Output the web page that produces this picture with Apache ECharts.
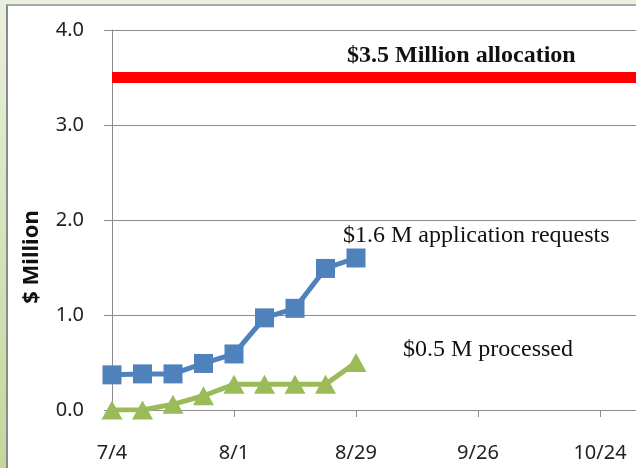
<!DOCTYPE html>
<html>
<head>
<meta charset="utf-8">
<script src="https://cdn.jsdelivr.net/npm/echarts@6/dist/echarts.min.js"></script>
<style>
html,body{margin:0;padding:0;}
body{width:636px;height:468px;overflow:hidden;position:relative;background:linear-gradient(#e9f0dd,#c3d79a);}
#panel{position:absolute;left:6px;top:4px;width:630px;height:464px;background:#fff;border-left:2px solid #8a8a8a;border-top:2px solid #a8a8a8;box-sizing:border-box;}
#main{position:absolute;left:0;top:0;width:760px;height:468px;}
</style>
</head>
<body>
<div id="panel"></div>
<div id="main"></div>
<script>
'use strict'
// week dates (2011) and values in $ million
var dates=['7/4','7/11','7/18','7/25','8/1','8/8','8/15','8/22','8/29'];
var requests=[0.37,0.38,0.38,0.49,0.59,0.97,1.07,1.49,1.60];
var processed=[0.00,0.00,0.06,0.15,0.27,0.27,0.27,0.27,0.50];
var allocation=3.5;
var yTicks=[0,1,2,3,4];

var t0=new Date(2011,6,4).getTime();
var DAY=86400000;
function dayOf(s){
	var p=s.split('/');
	return Math.round((new Date(2011,+p[0]-1,+p[1]).getTime()-t0)/DAY);
}
function labelOf(d){
	var dt=new Date(t0+d*DAY);
	return (dt.getMonth()+1)+'/'+dt.getDate();
}
function pairs(arr){
	var out=[];
	for(var i=0;i<arr.length;i++){
		out.push([dayOf(dates[i]),arr[i]]);
	}
	return out;
}

var gray='#8c8c8c';
// the chart div is wider than the window, the axis runs on past the right edge
var myChart=echarts.init(document.getElementById('main'));
var option={
	animation:false,
	backgroundColor:'transparent',
	grid:{left:112,top:30,bottom:58,right:38},
	xAxis:{
		type:'value',
		min:0,max:140,interval:28,
		axisLine:{show:true,lineStyle:{color:gray,width:1}},
		axisTick:{show:true,length:7,lineStyle:{color:gray}},
		splitLine:{show:false},
		axisLabel:{
			margin:33,
			color:'#222',
			fontFamily:'Noto Sans',
			fontSize:20,
			formatter:function(v){return labelOf(v);}
		}
	},
	yAxis:{
		type:'value',
		min:yTicks[0],max:yTicks[yTicks.length-1],interval:1,
		axisLine:{show:true,lineStyle:{color:gray,width:1}},
		axisTick:{show:true,length:8,lineStyle:{color:gray}},
		splitLine:{show:true,lineStyle:{color:gray,width:1}},
		axisLabel:{
			margin:28,
			color:'#222',
			fontFamily:'Noto Sans',
			fontSize:20,
			formatter:function(v){return v.toFixed(1);}
		}
	},
	graphic:[
		{type:'text',x:32,y:257,rotation:Math.PI/2,
			style:{text:'$ Million',font:'bold 22px "Noto Sans"',fill:'#111',textAlign:'center',textVerticalAlign:'middle'}},
		{type:'text',x:347,y:56,
			style:{text:'$3.5 Million allocation',font:'bold 24px "Liberation Serif"',fill:'#111',textVerticalAlign:'middle'}},
		{type:'text',x:343,y:236,
			style:{text:'$1.6 M application requests',font:'24px "Liberation Serif"',fill:'#111',textVerticalAlign:'middle'}},
		{type:'text',x:403,y:350,
			style:{text:'$0.5 M processed',font:'24px "Liberation Serif"',fill:'#111',textVerticalAlign:'middle'}}
	],
	series:[
		{
			name:'allocation',
			type:'line',
			data:[[0,allocation],[140,allocation]],
			symbol:'none',
			silent:true,
			lineStyle:{color:'#ff0000',width:11}
		},
		{
			name:'requests',
			type:'line',
			data:pairs(requests),
			symbol:'rect',
			symbolSize:19,
			itemStyle:{color:'#4f81bd'},
			lineStyle:{color:'#4f81bd',width:5}
		},
		{
			name:'processed',
			type:'line',
			data:pairs(processed),
			symbol:'triangle',
			symbolSize:[21,19],
			itemStyle:{color:'#9bbb59'},
			lineStyle:{color:'#9bbb59',width:5}
		}
	]
};
myChart.setOption(option);
</script>
</body>
</html>
